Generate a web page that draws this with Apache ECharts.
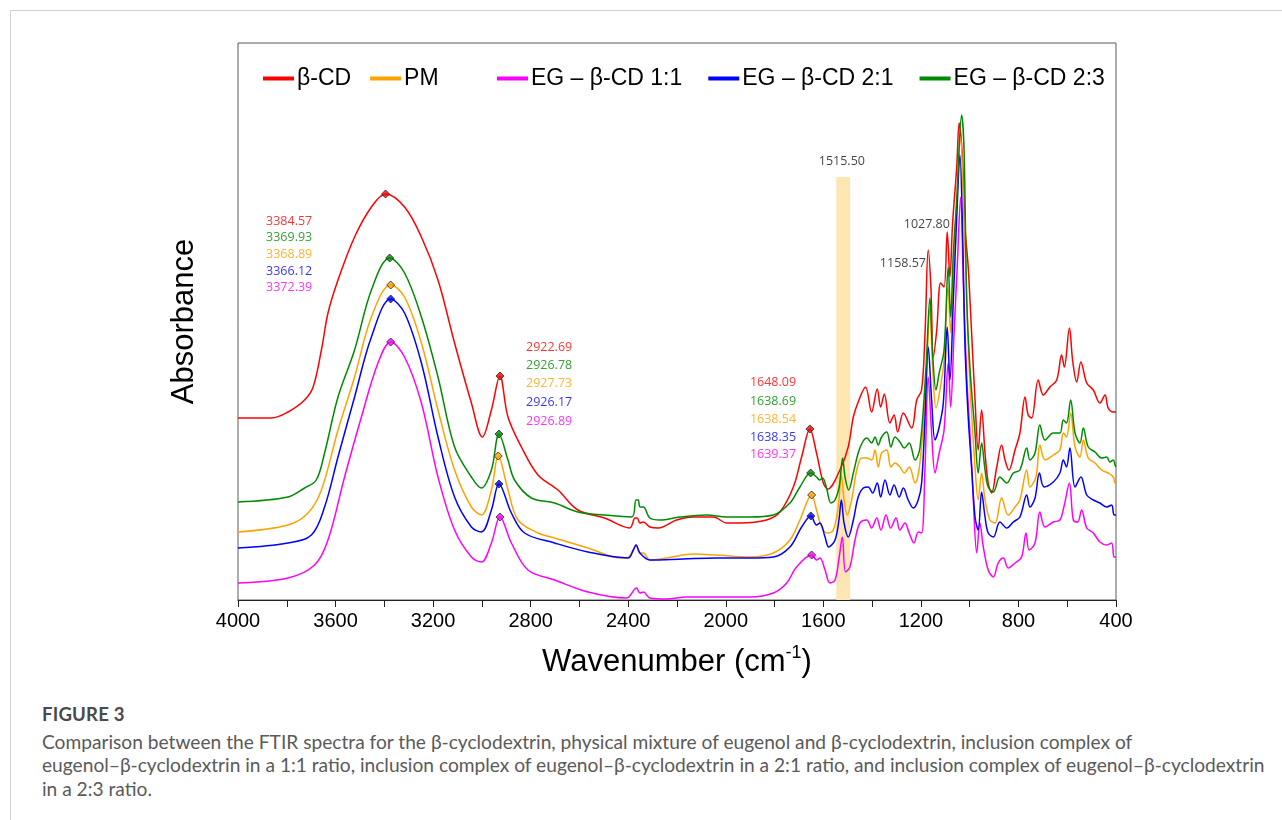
<!DOCTYPE html>
<html>
<head>
<meta charset="utf-8">
<script src="https://cdn.jsdelivr.net/npm/echarts@6/dist/echarts.min.js"></script>
<style>
html,body{margin:0;padding:0;background:#fff;width:1282px;height:820px;overflow:hidden;}
#frame{position:absolute;left:10px;top:10px;width:1300px;height:900px;border-left:1px solid #cfcfcf;border-top:1px solid #cfcfcf;}
#chart{position:absolute;left:0;top:0;width:1282px;height:700px;}
.cap{position:absolute;left:42px;font-family:'Lato',sans-serif;color:#5a5a5a;white-space:nowrap;line-height:1.2;}
#figtitle{font-weight:700;color:#4a4a4a;letter-spacing:0.2px;}
</style>
</head>
<body>
<div id="frame"></div>
<div id="chart"></div>
<div class="cap" id="figtitle">FIGURE 3</div>
<div class="cap" id="l1">Comparison between the FTIR spectra for the β-cyclodextrin, physical mixture of eugenol and β-cyclodextrin, inclusion complex of</div>
<div class="cap" id="l2">eugenol–β-cyclodextrin in a 1:1 ratio, inclusion complex of eugenol–β-cyclodextrin in a 2:1 ratio, and inclusion complex of eugenol–β-cyclodextrin</div>
<div class="cap" id="l3">in a 2:3 ratio.</div>
<script>
// ---- data: [wavenumber (cm-1), absorbance (a.u.)] ----
const seriesNames = ['β-CD', 'PM', 'EG – β-CD 1:1', 'EG – β-CD 2:1', 'EG – β-CD 2:3'];

const betaCD = [[4000,1.82],[3863,1.82],[3795,1.88],[3727,2.00],[3692,2.13],[3658,2.50],[3631,2.87],[3590,3.20],[3522,3.63],[3453,3.93],[3395,4.06],[3317,3.93],[3248,3.63],[3180,3.20],[3112,2.57],[3043,1.97],[2998,1.63],[2961,1.90],[2926,2.24],[2893,1.83],[2838,1.53],[2770,1.25],[2688,1.10],[2606,0.90],[2497,0.82],[2394,0.72],[2372,0.82],[2363,0.82],[2352,0.77],[2338,0.78],[2311,0.73],[2277,0.72],[2202,0.80],[2133,0.83],[2051,0.83],[1996,0.77],[1942,0.77],[1833,0.80],[1778,0.88],[1723,1.13],[1689,1.43],[1655,1.71],[1628,1.47],[1600,1.17],[1582,1.11],[1532,1.30],[1498,1.53],[1477,1.83],[1457,1.98],[1427,2.13],[1402,1.88],[1379,2.11],[1365,1.93],[1350,2.06],[1327,1.77],[1310,1.85],[1295,1.68],[1272,1.87],[1238,1.72],[1217,2.00],[1197,2.10],[1183,2.67],[1170,3.50],[1159,3.13],[1149,2.43],[1135,2.70],[1119,3.17],[1105,3.13],[1092,3.68],[1081,3.23],[1070,3.77],[1053,4.33],[1043,4.77],[1029,4.40],[1019,3.73],[1006,3.33],[992,2.67],[978,2.00],[965,1.50],[951,1.90],[937,1.47],[924,1.17],[910,1.07],[889,1.33],[869,1.55],[855,1.40],[839,1.30],[814,1.50],[794,1.67],[773,2.03],[760,1.85],[746,1.82],[719,2.20],[698,2.05],[671,2.13],[643,2.20],[623,2.45],[612,2.33],[591,2.72],[578,2.40],[561,2.18],[544,2.38],[520,2.17],[493,2.10],[466,1.97],[445,2.05],[432,1.92],[411,1.88],[400,1.88]];

const pm = [[4000,0.68],[3795,0.75],[3713,0.87],[3658,1.10],[3590,1.70],[3522,2.23],[3453,2.83],[3374,3.15],[3317,3.03],[3248,2.57],[3180,1.90],[3112,1.30],[3043,0.93],[3002,0.85],[2961,1.10],[2933,1.44],[2893,1.10],[2852,0.80],[2770,0.67],[2702,0.62],[2565,0.52],[2428,0.42],[2407,0.42],[2379,0.50],[2368,0.55],[2352,0.47],[2338,0.47],[2311,0.40],[2243,0.42],[2133,0.46],[2038,0.45],[1901,0.43],[1805,0.47],[1737,0.60],[1696,0.80],[1648,1.05],[1628,0.90],[1607,0.73],[1584,0.67],[1559,0.70],[1539,0.93],[1526,1.25],[1515,1.00],[1502,0.85],[1484,1.00],[1463,1.30],[1443,1.42],[1422,1.42],[1402,1.40],[1388,1.50],[1375,1.33],[1361,1.47],[1340,1.50],[1323,1.33],[1306,1.37],[1286,1.33],[1268,1.27],[1248,1.33],[1224,1.17],[1204,1.37],[1179,2.17],[1163,2.92],[1152,2.33],[1138,1.92],[1122,2.10],[1105,2.40],[1089,3.13],[1078,2.67],[1067,3.27],[1053,4.00],[1037,4.63],[1026,4.00],[1012,3.00],[999,2.17],[978,1.33],[965,1.00],[951,1.27],[937,1.00],[917,0.80],[896,0.77],[869,1.02],[842,0.85],[814,0.93],[794,1.00],[766,1.30],[753,1.13],[728,1.23],[712,1.55],[691,1.40],[657,1.45],[630,1.50],[616,1.67],[603,1.63],[586,1.87],[568,1.53],[548,1.43],[534,1.60],[514,1.42],[486,1.37],[459,1.30],[432,1.27],[411,1.23],[404,1.17],[400,1.17]];

const eg11 = [[4000,0.17],[3795,0.22],[3686,0.35],[3631,0.60],[3563,1.23],[3494,1.83],[3426,2.37],[3374,2.58],[3317,2.43],[3248,1.97],[3180,1.23],[3112,0.70],[3043,0.43],[3002,0.38],[2961,0.57],[2926,0.83],[2879,0.57],[2811,0.30],[2702,0.20],[2565,0.08],[2407,0.02],[2366,0.12],[2352,0.07],[2338,0.08],[2311,0.02],[2243,0.01],[2160,0.03],[2038,0.03],[1901,0.03],[1805,0.07],[1750,0.17],[1710,0.33],[1648,0.45],[1628,0.40],[1614,0.42],[1593,0.30],[1573,0.17],[1552,0.20],[1535,0.43],[1522,0.63],[1509,0.28],[1491,0.33],[1470,0.60],[1450,0.77],[1422,0.80],[1402,0.72],[1381,0.82],[1364,0.70],[1343,0.85],[1324,0.72],[1302,0.82],[1286,0.70],[1265,0.77],[1248,0.67],[1228,0.57],[1211,0.68],[1197,0.67],[1183,1.33],[1170,2.23],[1156,1.67],[1142,1.27],[1125,1.47],[1105,1.70],[1088,2.37],[1078,1.93],[1064,2.67],[1051,3.33],[1037,4.03],[1026,3.17],[1012,2.23],[999,1.67],[985,1.00],[971,0.47],[958,0.77],[944,0.53],[924,0.30],[903,0.23],[883,0.37],[862,0.42],[842,0.32],[814,0.37],[787,0.43],[769,0.67],[756,0.50],[732,0.57],[712,0.88],[691,0.73],[657,0.78],[630,0.80],[612,0.95],[591,1.17],[575,0.80],[557,0.78],[541,0.90],[520,0.72],[493,0.67],[466,0.58],[438,0.55],[418,0.57],[408,0.43],[400,0.43]];

const eg21 = [[4000,0.52],[3795,0.57],[3699,0.65],[3645,0.93],[3590,1.43],[3522,2.03],[3453,2.63],[3374,3.01],[3317,2.87],[3248,2.37],[3180,1.63],[3112,1.03],[3043,0.73],[3002,0.68],[2961,0.90],[2930,1.16],[2879,0.87],[2825,0.67],[2702,0.57],[2565,0.48],[2401,0.42],[2379,0.50],[2368,0.55],[2352,0.47],[2311,0.40],[2174,0.41],[2038,0.42],[1901,0.42],[1805,0.43],[1737,0.53],[1689,0.73],[1651,0.84],[1628,0.75],[1614,0.77],[1593,0.63],[1578,0.53],[1552,0.60],[1536,0.80],[1526,1.00],[1515,0.77],[1498,0.63],[1477,0.80],[1457,1.03],[1436,1.12],[1416,1.13],[1398,1.07],[1379,1.17],[1365,1.03],[1347,1.20],[1327,1.05],[1310,1.15],[1289,1.03],[1272,1.12],[1252,1.00],[1231,0.92],[1211,1.00],[1197,1.17],[1183,1.83],[1170,2.53],[1156,2.00],[1142,1.60],[1125,1.73],[1108,1.97],[1092,2.73],[1081,2.20],[1067,3.00],[1053,3.83],[1040,4.45],[1029,3.67],[1019,2.53],[1006,1.83],[992,1.33],[978,0.83],[965,0.70],[951,1.08],[937,0.83],[924,0.67],[903,0.63],[876,0.78],[848,0.72],[821,0.78],[794,0.83],[766,1.05],[753,0.93],[732,1.02],[714,1.27],[695,1.13],[657,1.18],[630,1.27],[616,1.40],[603,1.33],[589,1.52],[568,1.13],[544,1.23],[520,1.05],[493,1.00],[466,0.97],[438,0.93],[418,0.95],[408,0.85],[400,0.85]];

const eg23 = [[4000,0.98],[3795,1.03],[3727,1.12],[3679,1.20],[3645,1.47],[3590,2.03],[3522,2.50],[3453,3.10],[3378,3.42],[3317,3.27],[3248,2.83],[3180,2.23],[3112,1.53],[3043,1.23],[3002,1.12],[2961,1.30],[2930,1.66],[2893,1.40],[2866,1.20],[2797,1.02],[2702,0.97],[2606,0.88],[2497,0.85],[2386,0.83],[2368,1.00],[2359,1.00],[2352,0.93],[2338,0.93],[2311,0.82],[2270,0.80],[2188,0.83],[2079,0.85],[1996,0.83],[1901,0.83],[1805,0.85],[1737,0.97],[1696,1.13],[1652,1.27],[1628,1.23],[1614,1.20],[1603,1.22],[1587,1.12],[1569,0.97],[1552,1.00],[1535,1.13],[1521,1.42],[1511,1.23],[1496,1.10],[1477,1.27],[1457,1.47],[1439,1.58],[1422,1.62],[1402,1.57],[1388,1.63],[1375,1.55],[1361,1.63],[1340,1.68],[1323,1.53],[1306,1.63],[1286,1.58],[1268,1.52],[1248,1.57],[1224,1.40],[1204,1.52],[1179,2.33],[1163,3.02],[1152,2.47],[1138,2.10],[1125,2.27],[1105,2.50],[1088,3.33],[1078,2.83],[1067,3.47],[1053,4.00],[1033,4.85],[1023,4.50],[1012,3.00],[999,2.33],[978,1.67],[965,1.27],[951,1.57],[937,1.30],[924,1.13],[903,1.08],[876,1.23],[848,1.17],[821,1.27],[794,1.30],[766,1.52],[753,1.40],[732,1.47],[712,1.75],[691,1.60],[657,1.67],[630,1.67],[616,1.80],[603,1.77],[586,2.00],[568,1.67],[548,1.57],[534,1.72],[514,1.53],[486,1.48],[459,1.42],[438,1.43],[425,1.38],[411,1.40],[404,1.35],[400,1.33]];

// marked peaks (diamonds)
const betaCDPeaks = [[3395,4.06],[2926,2.24],[1655,1.71]];
const pmPeaks     = [[3374,3.15],[2933,1.44],[1648,1.05]];
const eg11Peaks   = [[3374,2.58],[2926,0.83],[1648,0.45]];
const eg21Peaks   = [[3374,3.01],[2930,1.16],[1651,0.84]];
const eg23Peaks   = [[3378,3.42],[2930,1.66],[1652,1.27]];

// peak annotation texts (order: β-CD, 2:3, PM, 2:1, 1:1)
const ohLabels  = ['3384.57','3369.93','3368.89','3366.12','3372.39'];
const chLabels  = ['2922.69','2926.78','2927.73','2926.17','2926.89'];
const coLabels  = ['1648.09','1638.69','1638.54','1638.35','1639.37'];
// anchors of the annotation lines [wavenumber, absorbance]
const ohAnchors = [[3885,3.79],[3885,3.63],[3885,3.46],[3885,3.29],[3885,3.13]];
const chAnchors = [[2819,2.53],[2819,2.35],[2819,2.17],[2819,1.98],[2819,1.79]];
const coAnchors = [[1901,2.18],[1901,1.99],[1901,1.81],[1901,1.63],[1901,1.46]];
const blackLabels = [['1515.50',1524,4.39,'center'],['1027.80',1081,3.76,'right'],['1158.57',1179,3.37,'right']];
// highlighted band (cm-1 from, cm-1 to, absorbance top)
const band = [1547, 1490, 4.23];

// ---- styles ----
const COLORS = {'β-CD':'#ff0000','PM':'#ffa200','EG – β-CD 1:1':'#ff00ff','EG – β-CD 2:1':'#0000ff','EG – β-CD 2:3':'#008a00'};
const labelColorOrder = ['#ff0000','#008a00','#ffa200','#0000ff','#ff00ff'];
const lineData = [betaCD, pm, eg11, eg21, eg23];
const peakData = [betaCDPeaks, pmPeaks, eg11Peaks, eg21Peaks, eg23Peaks];

// caption sizing: fit the measured width of the first phrase
(function(){
  const c = document.createElement('canvas').getContext('2d');
  c.font = '20px Lato';
  const w = c.measureText('Comparison between the FTIR spectra for').width;
  const fs = 20 * 352 / w;
  ['l1','l2','l3'].forEach((id,i)=>{
    const el = document.getElementById(id);
    el.style.fontSize = fs.toFixed(2)+'px';
    el.style.top = (741 + i*23.5 - fs*0.6).toFixed(1)+'px';
  });
  const t = document.getElementById('figtitle');
  t.style.fontSize = (fs*0.97).toFixed(2)+'px';
  t.style.top = (714 - fs*0.58).toFixed(1)+'px';
})();

const series = [];
series.push({
  type:'line', name:'band', data:[], silent:true, z:1,
  markArea:{silent:true, itemStyle:{color:'#fde6b2'},
    data:[[{xAxis:band[0], yAxis:0},{xAxis:band[1], yAxis:band[2]}]]}
});
seriesNames.forEach((n,i)=>{
  series.push({
    type:'line', name:n, data:lineData[i], showSymbol:false, smooth:0.35,
    lineStyle:{width:1.5, color:COLORS[n]}, itemStyle:{color:COLORS[n]}, z:3+i
  });
});
seriesNames.forEach((n,i)=>{
  series.push({
    type:'scatter', name:n+' peaks', data:peakData[i], symbol:'diamond', symbolSize:8,
    itemStyle:{color:COLORS[n], borderColor:'#222', borderWidth:1}, z:10
  });
});
function labelSeries(texts, anchors, align){
  return {
    type:'scatter', symbolSize:0, silent:true, z:11,
    data: texts.map((t,i)=>({value:anchors[i], label:{show:true, formatter:t, color:labelColorOrder[i], align:align, position:'inside', fontFamily:'Open Sans', fontSize:12.5}}))
  };
}
series.push(labelSeries(ohLabels, ohAnchors, 'left'));
series.push(labelSeries(chLabels, chAnchors, 'left'));
series.push(labelSeries(coLabels, coAnchors, 'left'));
series.push({
  type:'scatter', symbolSize:0, silent:true, z:11,
  data: blackLabels.map(b=>({value:[b[1],b[2]], label:{show:true, formatter:b[0], color:'#111', align:b[3], position:'inside', fontFamily:'Open Sans', fontSize:12.5}}))
});

const legendCommon = {
  top:67, padding:0, itemGap:19, icon:'rect', itemWidth:31, itemHeight:4,
  textStyle:{fontSize:23, fontFamily:'Liberation Sans', color:'#000', padding:[0,0,0,-2]},
  selectedMode:false
};

const chart = echarts.init(document.getElementById('chart'));
chart.setOption({
  animation:false,
  backgroundColor:'transparent',
  grid:{left:238, top:43, width:878, height:557, show:true, borderColor:'#5a5a5a', borderWidth:1, containLabel:false},
  legend:[
    Object.assign({}, legendCommon, {left:263, data:['β-CD','PM']}),
    Object.assign({}, legendCommon, {left:497, itemGap:26, data:['EG – β-CD 1:1','EG – β-CD 2:1','EG – β-CD 2:3']})
  ],
  xAxis:{
    type:'value', inverse:true, min:400, max:4000, interval:400,
    axisLine:{show:true, onZero:false, lineStyle:{color:'#222', width:1}},
    axisTick:{show:true, length:7, lineStyle:{color:'#222'}},
    minorTick:{show:true, splitNumber:2, length:7, lineStyle:{color:'#222'}},
    splitLine:{show:false},
    axisLabel:{fontSize:20, fontFamily:'Liberation Sans', color:'#000', margin:11, formatter:v=>String(v)},
    name:'{a|Wavenumber (cm}{b|-1}{a|)}', nameLocation:'middle', nameGap:44,
    nameTextStyle:{rich:{
      a:{fontSize:31, fontFamily:'Liberation Sans', color:'#000', lineHeight:36},
      b:{fontSize:18, fontFamily:'Liberation Sans', color:'#000', verticalAlign:'top', lineHeight:20}
    }}
  },
  yAxis:{
    type:'value', min:0, max:5.57,
    axisLine:{show:false}, axisTick:{show:false}, axisLabel:{show:false}, splitLine:{show:false},
    name:'Absorbance', nameLocation:'middle', nameGap:38,
    nameTextStyle:{fontSize:31, fontFamily:'Liberation Sans', color:'#000'}
  },
  series: series
});
</script>
</body>
</html>
